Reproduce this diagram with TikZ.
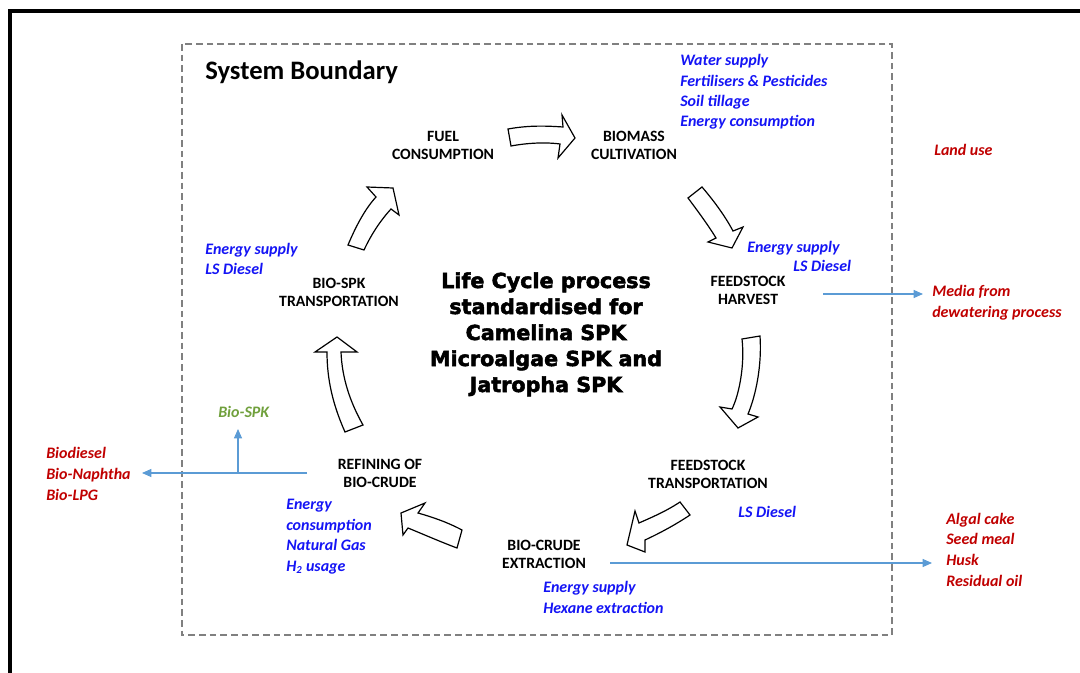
\documentclass[tikz,border=0pt]{standalone}
\usepackage{fontspec}
\setmainfont{Carlito}
\newfontfamily\heavyfont[FakeBold=2.5]{DejaVu Sans Bold}
\usetikzlibrary{arrows.meta}
\definecolor{txtblue}{RGB}{20,20,245}
\definecolor{txtred}{RGB}{192,0,0}
\definecolor{txtgreen}{RGB}{112,160,60}
\definecolor{flowblue}{RGB}{91,155,213}
\definecolor{boundgray}{RGB}{128,128,128}
\begin{document}
\begin{tikzpicture}[x=0.75pt,y=-0.75pt,
  stage/.style={font=\fontsize{11.8}{13.5}\selectfont\bfseries, align=center, anchor=base, inner sep=0pt},
  input/.style={font=\fontsize{12}{15.3}\selectfont\bfseries\itshape, text=txtblue, align=left, anchor=base west, inner sep=0pt},
  output/.style={input, font=\fontsize{12}{15.5}\selectfont\bfseries\itshape, text=txtred},
  product/.style={input, text=txtgreen},
  cyclearrow/.style={draw=black, fill=white, line width=0.9pt, line join=miter},
  flow/.style={draw=flowblue, line width=0.8pt, -{Triangle[length=7pt,width=6pt]}},
  boundary/.style={draw=boundgray, line width=1.5pt, dash pattern=on 5pt off 3pt},
  frame/.style={draw=black, line width=3.5pt}
]
\useasboundingbox (0,0) rectangle (1080,673);
% outer frame
\draw[frame] (10,676) -- (10,11) -- (1083,11);
% system boundary
\draw[boundary] (182,44) rectangle (892,635);
\node[anchor=base west, inner sep=0pt, font=\fontsize{20}{24}\selectfont\bfseries] (sb) at (205,80) {System Boundary};

% stages (anchor = baseline of the last line)
\node[stage] (fuel) at (443,160) {FUEL\\CONSUMPTION};
\node[stage] (biomass) at (634,160) {BIOMASS\\CULTIVATION};
\node[stage] (harvest) at (748,305) {FEEDSTOCK\\HARVEST};
\node[stage] (ftrans) at (708,488) {FEEDSTOCK\\TRANSPORTATION};
\node[stage] (extract) at (544,568) {BIO-CRUDE\\EXTRACTION};
\node[stage] (refine) at (380,487) {REFINING OF\\BIO-CRUDE};
\node[stage] (strans) at (339,306) {BIO-SPK\\TRANSPORTATION};

% centre
\node[align=center, anchor=base, inner sep=0pt, font=\heavyfont\bfseries\fontsize{15.5}{19.5}\selectfont] (centre) at (546,392)
  {Life Cycle process\\standardised for\\Camelina SPK\\Microalgae SPK and\\Jatropha SPK};

% cycle arrows
\draw[cyclearrow] (508,129) .. controls (530,125) and (548,126) .. (563,127) -- (562,115) -- (575,138) -- (558,158) -- (560,144) .. controls (545,142) and (527,143) .. (511,146) -- cycle;
\draw[cyclearrow] (688,198) .. controls (700,214) and (710,228) .. (716,238) -- (708,242) -- (732,248) -- (743,227) -- (733,231) .. controls (725,216) and (714,201) .. (702,187) -- cycle;
\draw[cyclearrow] (742,339) .. controls (745,365) and (739,395) .. (732,409) -- (720,407) -- (738,428) -- (758,417) -- (748,414) .. controls (756,395) and (762,365) .. (760,336) -- cycle;
\draw[cyclearrow] (680,502) .. controls (665,512) and (650,518) .. (639,523) -- (635,511) -- (627,545) -- (645,552) -- (645,540) .. controls (660,533) and (675,525) .. (690,515) -- cycle;
\draw[cyclearrow] (462,530) .. controls (447,522) and (432,517) .. (418,513) -- (425,503) -- (401,513) -- (403,535) -- (408,528) .. controls (425,535) and (441,542) .. (457,548) -- cycle;
\draw[cyclearrow] (345,432) .. controls (333,405) and (327,380) .. (327,352) -- (315,352) -- (337,337) -- (357,352) -- (341,352) .. controls (342,378) and (350,402) .. (363,425) -- cycle;
\draw[cyclearrow] (348,245) .. controls (356,226) and (365,209) .. (376,197) -- (367,187) -- (393,188) -- (399,215) -- (391,209) .. controls (380,221) and (371,235) .. (364,250) -- cycle;

% inputs (blue), anchored at the last line's baseline
\node[input] (in-bio) at (680,127) {Water supply\\Fertilisers \& Pesticides\\Soil tillage\\Energy consumption};
\node[input] (in-harv1) at (747,253) {Energy supply};
\node[input] (in-harv2) at (793,272) {LS Diesel};
\node[input] (in-strans) at (205,275) {Energy supply\\LS Diesel};
\node[input] (in-ftrans) at (738,517) {LS Diesel};
\node[input] (in-ref) at (286,571) {Energy\\consumption\\Natural Gas\\H\textsubscript{2} usage};
\node[input] (in-ext) at (543,613) {Energy supply\\Hexane extraction};

% outputs (red)
\node[output] (landuse) at (934,156) {Land use};
\node[output] (media) at (932,317) {Media from\\dewatering process};
\node[output] (coprod) at (46,500) {Biodiesel\\Bio-Naphtha\\Bio-LPG};
\node[output] (residue) at (946,586) {Algal cake\\Seed meal\\Husk\\Residual oil};
\node[product] (biospk) at (218,417) {Bio-SPK};

% flows
\coordinate (hvA) at (823,294);
\coordinate (hvB) at (923,294);
\draw[flow] (hvA) -- (hvB);
\coordinate (exA) at (610,563);
\coordinate (exB) at (932,563);
\draw[flow] (exA) -- (exB);
\coordinate (rfA) at (307,473);
\coordinate (rfB) at (142,473);
\coordinate (rfC) at (238,473);
\coordinate (rfD) at (238,429);
\draw[flow] (rfA) -- (rfB);
\draw[flow] (rfC) -- (rfD);
\end{tikzpicture}
\end{document}
